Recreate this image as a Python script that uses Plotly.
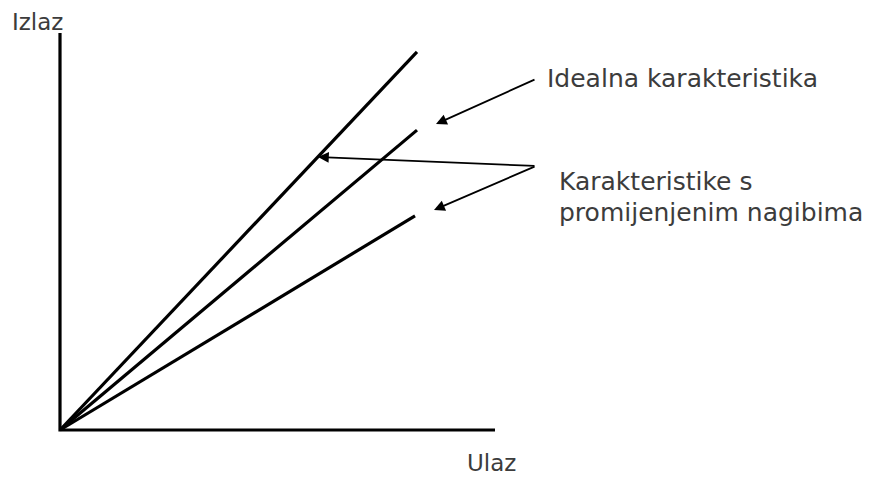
import plotly.graph_objects as go

# Input span drawn for each characteristic and its slope (output / input)
line_inputs = [357, 357, 355]
line_slopes = [1.059, 0.840, 0.603]

# Axis extents (diagram units, origin at 0,0)
x_axis_len = 435
y_axis_len = 397

# Arrow tails -> heads for the callouts
arrow_tails_x = [476, 476, 476]
arrow_tails_y = [351, 264, 264]
arrow_heads_x = [376, 374, 258]
arrow_heads_y = [306, 220, 273]

label_ideal = "Idealna karakteristika"
label_changed = ["Karakteristike s", "promijenjenim nagibima"]
label_out = "Izlaz"
label_in = "Ulaz"

BIG = dict(family="DejaVu Sans", size=25, color="#3c3c3c")
SMALL = dict(family="DejaVu Sans", size=23, color="#3c3c3c")

fig = go.Figure()

# axes
fig.add_trace(go.Scatter(x=[0, 0, x_axis_len], y=[y_axis_len, 0, 0], mode="lines",
                         line=dict(color="black", width=3.2), hoverinfo="skip"))

# characteristics through the origin
for xin, k in zip(line_inputs, line_slopes):
    fig.add_trace(go.Scatter(x=[0, xin], y=[0, k * xin], mode="lines",
                             line=dict(color="black", width=3.2), hoverinfo="skip"))

for tx, ty, hx, hy in zip(arrow_tails_x, arrow_tails_y, arrow_heads_x, arrow_heads_y):
    fig.add_annotation(x=hx, y=hy, ax=tx, ay=ty, xref="x", yref="y", axref="x", ayref="y",
                       showarrow=True, arrowhead=2, arrowsize=1.2, arrowwidth=1.8,
                       arrowcolor="black", text="")

fig.add_annotation(x=485, y=352, text=label_ideal, showarrow=False, xanchor="left", font=BIG)
fig.add_annotation(x=497, y=249, text=label_changed[0], showarrow=False, xanchor="left", font=BIG)
fig.add_annotation(x=497, y=218, text=label_changed[1], showarrow=False, xanchor="left", font=BIG)
fig.add_annotation(x=-23, y=408, text=label_out, showarrow=False, font=SMALL)
fig.add_annotation(x=431, y=-33, text=label_in, showarrow=False, font=SMALL)

fig.update_layout(
    width=872, height=477,
    margin=dict(l=0, r=0, t=0, b=0),
    showlegend=False,
    paper_bgcolor="white", plot_bgcolor="white",
    xaxis=dict(range=[-60, 812], visible=False, fixedrange=True),
    yaxis=dict(range=[-47, 430], visible=False, fixedrange=True),
)

fig.write_html("out.html", config={"displayModeBar": False},
               post_script="document.body.style.margin='0';")
